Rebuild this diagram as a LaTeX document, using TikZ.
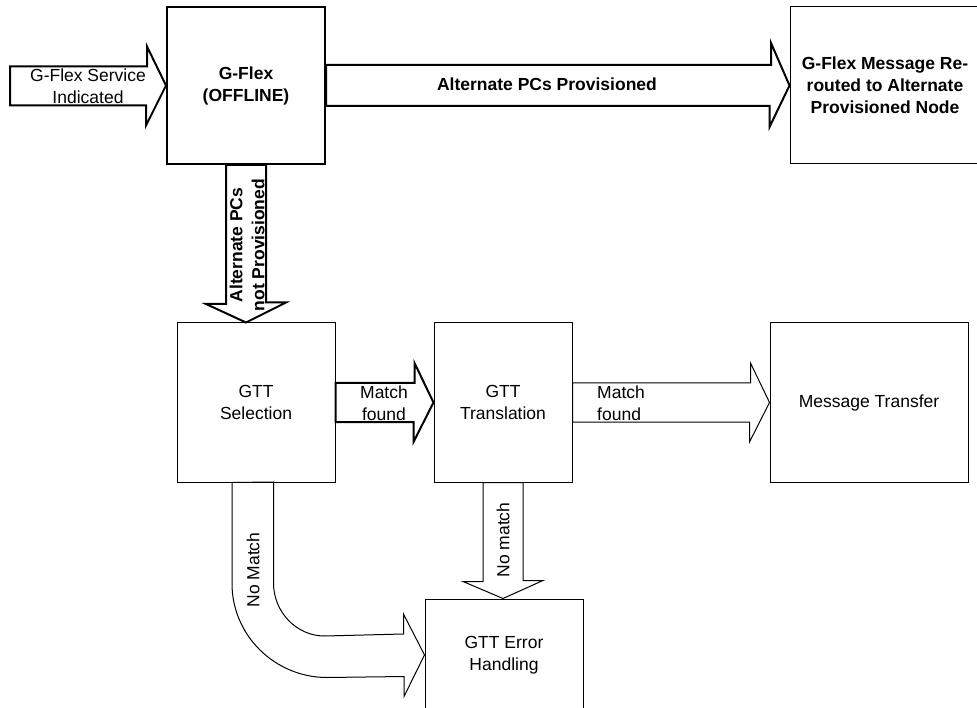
\documentclass[tikz,border=0pt]{standalone}
\usepackage{fontspec}
\setmainfont{Liberation Sans}
\usetikzlibrary{calc}
\begin{document}
\begin{tikzpicture}[x=1pt,y=-1pt,
  every node/.style={font=\fontsize{17.5}{22}\selectfont, align=center, inner sep=0pt},
  bf/.style={font=\fontsize{17.5}{22}\selectfont\bfseries},
  thickbox/.style={draw, line width=2pt, rectangle},
  thinbox/.style={draw, line width=1pt, rectangle},
  thickarrow/.style={draw, line width=2pt, line join=miter},
  thinarrow/.style={draw, line width=1pt, line join=miter}]
\clip (0,0) rectangle (977,708);
% boxes
\node[thickbox, bf, minimum width=158, minimum height=157] (gflex) at (246,85.5) {G-Flex\\(OFFLINE)};
\node[thinbox, bf, minimum width=190, minimum height=157] (reroute) at (885,85.5) {G-Flex Message Re-\\routed to Alternate\\Provisioned Node};
\node[thinbox, minimum width=158, minimum height=159] (sel) at (256,402.5) {GTT\\Selection};
\node[thinbox, minimum width=138, minimum height=159] (trans) at (503,402.5) {GTT\\Translation};
\node[thinbox, minimum width=198, minimum height=159] (msg) at (869,402.5) {Message Transfer};
\node[thinbox, minimum width=158, minimum height=112] (err) at (504,655) {GTT Error\\Handling};
% input arrow
\coordinate (src) at (10,86);
\draw[thickarrow] ([yshift=19.5pt]src) -- ++(137,0) -- ++(0,-20) -- (gflex.west) -- ++(-20,40) -- ++(0,-20) -- ([yshift=-19.5pt]src) -- cycle;
\node (lblin) at (88,86) {G-Flex Service\\Indicated};
% main arrow
\draw[thickarrow] ([yshift=20.5pt]gflex.east) -- ++(445,0) -- ++(0,-22) -- (reroute.west) -- ++(-20,41.5) -- ++(0,-21) -- ([yshift=-20.5pt]gflex.east) -- cycle;
\node[bf] (lblalt) at (547,84) {Alternate PCs Provisioned};
% down arrow
\draw[thickarrow] ([xshift=-20pt]gflex.south) -- ++(0,139) -- ++(-20,0) -- (gflex.south |- sel.north) -- ++(40,-20) -- ++(-20,0) -- ([xshift=20pt]gflex.south) -- cycle;
\node[bf, rotate=90] (lbldown) at (247,245) {Alternate PCs\\not Provisioned};
% match found 1
\draw[thickarrow] ([yshift=19.5pt]sel.east) -- ++(79,0) -- ++(0,-20) -- (trans.west) -- ++(-20,39.5) -- ++(0,-20) -- ([yshift=-19.5pt]sel.east) -- cycle;
\node (lblm1) at (384,403) {Match\\found};
% match found 2
\draw[thinarrow] ([yshift=19.5pt]trans.east) -- ++(178,0) -- ++(0,-20) -- (msg.west) -- ++(-20,39.5) -- ++(0,-20) -- ([yshift=-19.5pt]trans.east) -- cycle;
\node[anchor=west, align=left] (lblm2) at (597,403) {Match\\found};
% no match (translation)
\draw[thinarrow] ([xshift=-20pt]trans.south) -- ++(0,99) -- ++(-20,0) -- (trans.south |- err.north) -- ++(40,-18) -- ++(-20,0) -- ([xshift=20pt]trans.south) -- cycle;
\node[rotate=90] (lblnm) at (503,540) {No match};
% no match (selection), curved
\draw[thinarrow] ([xshift=-24pt]sel.south) -- ++(0,101) .. controls +(0,52) and +(-52,0) .. ++(95,94) -- ++(77,-1) -- ++(0,20) -- (err.west) -- ++(-21,-41) -- ++(0,20) -- ++(-79,2) .. controls +(-28,0) and +(0,29) .. ++(-51,-53) -- ++(0,-101) -- cycle;
\node[rotate=90] (lblnm2) at (253,570) {No Match};
\end{tikzpicture}
\end{document}
